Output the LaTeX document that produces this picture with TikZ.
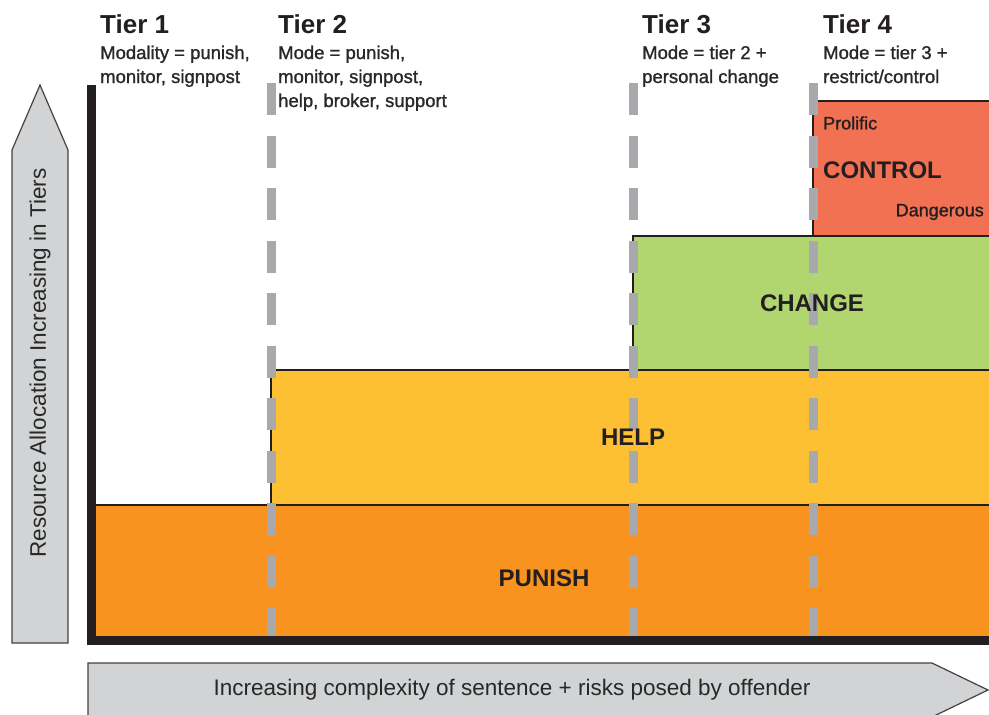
\documentclass[tikz,border=0pt]{standalone}
\usepackage{fontspec}
\setmainfont{Liberation Sans}
\newfontfamily\medfont[FakeBold=1.2]{Liberation Sans}
\definecolor{punishc}{RGB}{247,147,30}
\definecolor{helpc}{RGB}{254,192,51}
\definecolor{changec}{RGB}{177,214,112}
\definecolor{controlc}{RGB}{241,113,82}
\definecolor{dashc}{RGB}{167,169,172}
\definecolor{arrowc}{RGB}{209,211,212}
\definecolor{inkc}{RGB}{35,31,32}
\definecolor{textc}{RGB}{40,40,40}
\tikzset{
  edge/.style={draw=inkc, line width=2.4pt},
  tierline/.style={draw=dashc, line width=9pt, dash pattern=on 32pt off 20.5pt},
  bigarrow/.style={draw=inkc!85, fill=arrowc, line width=1.2pt},
  tierhead/.style={anchor=base west, inner sep=0pt, font=\bfseries\fontsize{26}{30}\selectfont, text=inkc},
  desc/.style={anchor=base west, inner sep=0pt, font=\medfont\fontsize{18.5}{22}\selectfont, text=textc},
  bandlabel/.style={inner sep=0pt, font=\bfseries\fontsize{24}{28}\selectfont, text=inkc},
  smalllabel/.style={inner sep=0pt, font=\medfont\fontsize{18}{20}\selectfont, text=inkc},
  axislabel/.style={inner sep=0pt, font=\fontsize{22.5}{26}\selectfont, text=textc}
}
\begin{document}
\begin{tikzpicture}[x=1pt,y=-1pt]
\useasboundingbox (0,0) rectangle (989,715);
\clip (0,0) rectangle (989,715);
% bands
\fill[punishc] (96,505) rectangle (989,636);
\fill[helpc] (271,370) rectangle (989,505);
\fill[changec] (633,236) rectangle (989,370);
\fill[controlc] (813,101) rectangle (989,236);
\draw[edge] (96,505) -- (989,505);
\draw[edge] (271,505) -- (271,370) -- (989,370);
\draw[edge] (633,370) -- (633,236) -- (989,236);
\draw[edge] (813,236) -- (813,101) -- (989,101);
% axes
\fill[inkc] (87,85) rectangle (96,645);
\fill[inkc] (87,636) rectangle (989,645);
% tier dividers
\coordinate (d2t) at (271,83); \coordinate (d2b) at (271,636);
\coordinate (d3t) at (633,83); \coordinate (d3b) at (633,636);
\coordinate (d4t) at (813.5,83); \coordinate (d4b) at (813.5,636);
\draw[tierline] (d2t) -- (d2b);
\draw[tierline] (d3t) -- (d3b);
\draw[tierline] (d4t) -- (d4b);
% big arrows
\draw[bigarrow] (12,643) -- (12,150) -- (40,85) -- (68,150) -- (68,643) -- cycle;
\draw[bigarrow] (88,663) -- (932,663) -- (988,690) -- (932,717) -- (88,717) -- cycle;
\node[axislabel, rotate=90] (ylab) at (40,363) {Resource Allocation Increasing in Tiers};
\node[axislabel] (xlab) at (512,690) {Increasing complexity of sentence + risks posed by offender};
% headings
\node[tierhead] (t1) at (100,33) {Tier 1};
\node[desc] (t1a) at (100,59) {Modality = punish,};
\node[desc] (t1b) at (100,83) {monitor, signpost};
\node[tierhead] (t2) at (278,33) {Tier 2};
\node[desc] (t2a) at (278,59) {Mode = punish,};
\node[desc] (t2b) at (278,83) {monitor, signpost,};
\node[desc] (t2c) at (278,107) {help, broker, support};
\node[tierhead] (t3) at (642,33) {Tier 3};
\node[desc] (t3a) at (642,59) {Mode = tier 2 +};
\node[desc] (t3b) at (642,83) {personal change};
\node[tierhead] (t4) at (823,33) {Tier 4};
\node[desc] (t4a) at (823,59) {Mode = tier 3 +};
\node[desc] (t4b) at (823,83) {restrict/control};
% band labels
\node[bandlabel] (punish) at (544,578) {PUNISH};
\node[bandlabel] (help) at (633,437) {HELP};
\node[bandlabel] (change) at (812,303) {CHANGE};
\node[bandlabel, anchor=west] (control) at (823,170) {CONTROL};
\node[smalllabel, anchor=west] (prolific) at (823,123) {Prolific};
\node[smalllabel, anchor=east] (danger) at (984,212) {Dangerous};
\end{tikzpicture}
\end{document}
